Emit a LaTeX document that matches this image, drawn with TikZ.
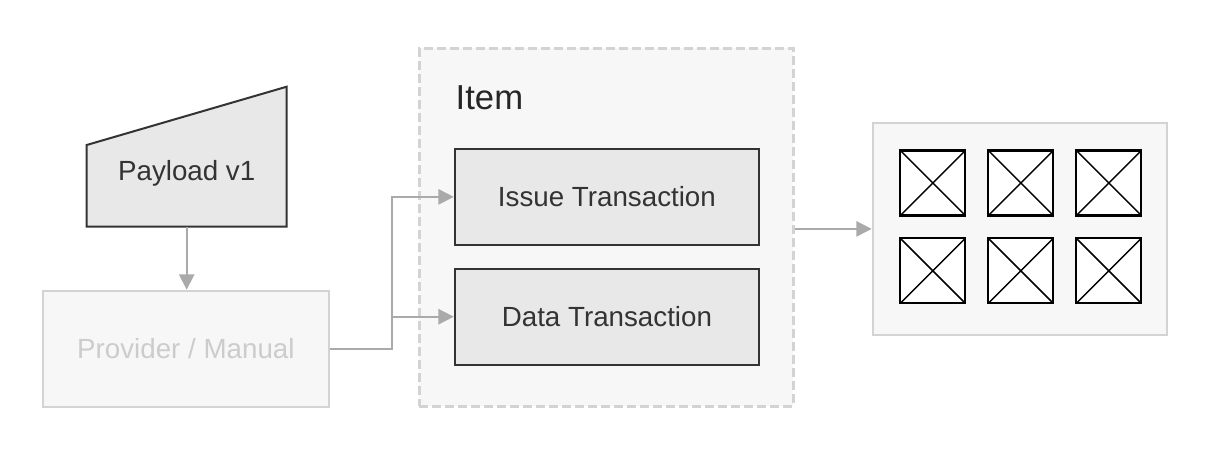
\documentclass[tikz,border=0pt]{standalone}
\usepackage{fontspec}
\setmainfont{Liberation Sans}
\usetikzlibrary{arrows.meta,calc}
\definecolor{darkline}{HTML}{333333}
\definecolor{boxfill}{HTML}{E8E8E8}
\definecolor{lightfill}{HTML}{F7F7F7}
\definecolor{lightline}{HTML}{D3D3D3}
\definecolor{connline}{HTML}{AAAAAA}
\definecolor{darktext}{HTML}{333333}
\definecolor{fainttext}{HTML}{CCCCCC}
\tikzset{
  txt/.style={font=\fontsize{20.8pt}{25pt}\selectfont, text=darktext},
  darkbox/.style={draw=darkline, fill=boxfill, line width=1.5pt, inner sep=0pt, txt},
  lightbox/.style={draw=lightline, fill=lightfill, line width=1.5pt, inner sep=0pt},
  conn/.style={draw=connline, line width=1.2pt, -{Triangle[length=11.5pt,width=11.5pt]}},
  imgbox/.style={draw=black, fill=white, line width=1.6pt, inner sep=0pt,
    minimum width=48.75pt, minimum height=48.75pt,
    path picture={\draw[line width=1.1pt] (path picture bounding box.north west) -- (path picture bounding box.south east)
      (path picture bounding box.north east) -- (path picture bounding box.south west);}}
}
\begin{document}
\begin{tikzpicture}[x=0.75pt,y=-0.75pt]
\useasboundingbox (0,0) rectangle (1210,456);
\fill[white] (0,0) rectangle (1210,456);
% Payload trapezoid
\coordinate (pbl) at (86.7,226.7);
\coordinate (pbr) at (286.7,226.7);
\coordinate (ptr) at (286.7,86.7);
\coordinate (ptl) at (86.7,145);
\coordinate (pbot) at (186.7,226.7);
\draw[darkline, fill=boxfill, line width=1.5pt] (pbl) -- (pbr) -- (ptr) -- (ptl) -- cycle;
\node[txt, anchor=base] (payload) at (186.7,180.7) {Payload v1};
% Provider
\node[lightbox, minimum width=214.7pt, minimum height=87pt, font=\fontsize{20.8pt}{25pt}\selectfont, text=fainttext] (provider) at (185.9,348.7) {Provider / Manual};
% Item container
\node[draw=lightline, fill=lightfill, line width=2.25pt, dash pattern=on 6.75pt off 3pt, inner sep=0pt,
  minimum width=280.5pt, minimum height=268.3pt] (item) at (606,227.2) {};
\node[anchor=base west, font=\fontsize{26pt}{30pt}\selectfont, text=black!85] (itemlabel) at (451,110) {Item};
\node[darkbox, minimum width=228.2pt, minimum height=72.2pt] (issue) at (606.9,196.9) {Issue Transaction};
\node[darkbox, minimum width=228.2pt, minimum height=72pt] (data) at (606.9,316.7) {Data Transaction};
% Images container
\node[lightbox, minimum width=221pt, minimum height=159.2pt] (images) at (1020,228.9) {};
\node[imgbox] (i11) at (932.8,183) {};
\node[imgbox] (i12) at (1020.8,183) {};
\node[imgbox] (i13) at (1108.8,183) {};
\node[imgbox] (i21) at (932.8,270.8) {};
\node[imgbox] (i22) at (1020.8,270.8) {};
\node[imgbox] (i23) at (1108.8,270.8) {};
% Connectors
\coordinate (split) at (391.7,316.7);
\draw[conn] (pbot) -- (pbot |- provider.north);
\draw[conn] (provider.east) -- (provider.east -| split) |- (issue.west);
\draw[conn] (split) -- (data.west);
\draw[conn] (item.east |- images.west) -- (images.west);
\end{tikzpicture}
\end{document}
